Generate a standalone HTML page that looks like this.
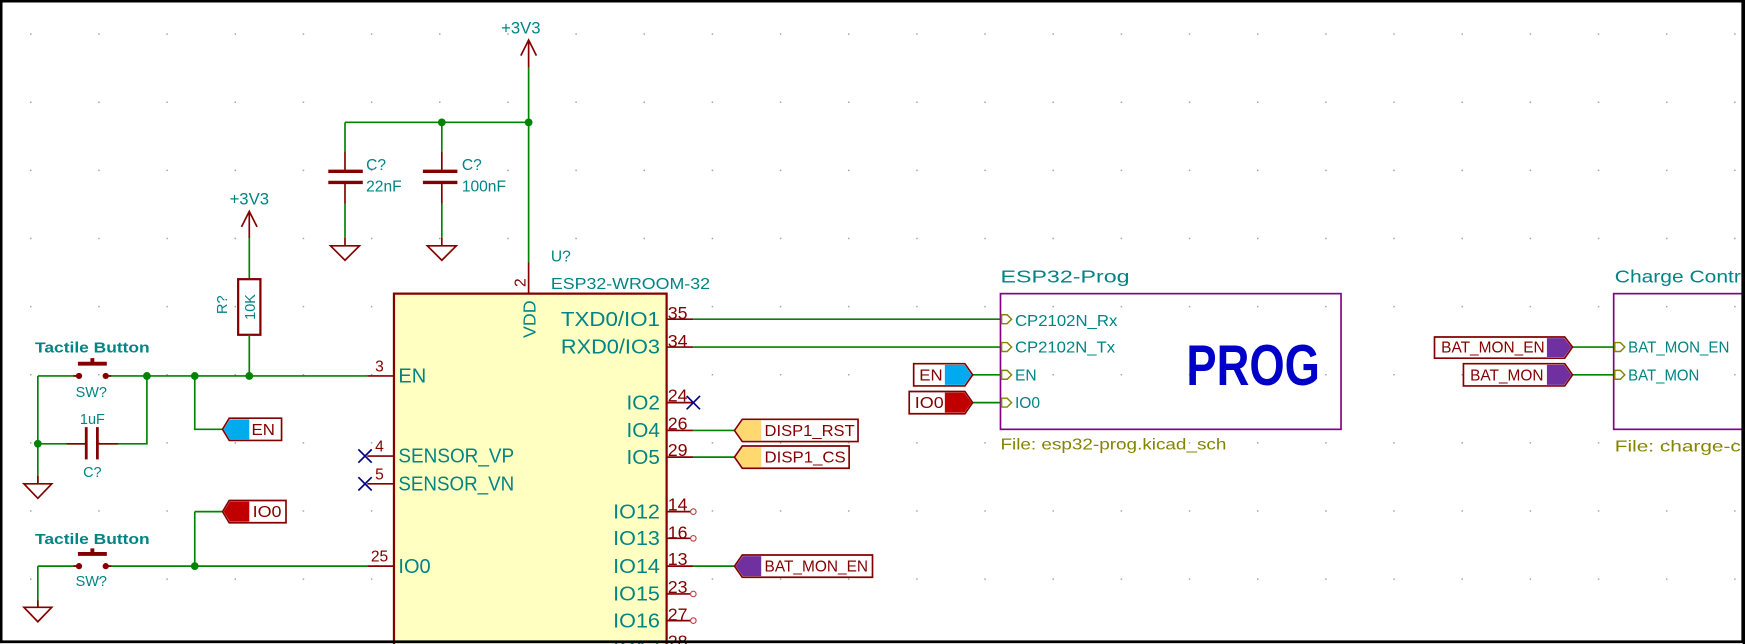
<!DOCTYPE html>
<html><head><meta charset="utf-8"><style>
html,body{margin:0;padding:0;background:#fff;}
svg{display:block;}
text{font-family:"Liberation Sans",sans-serif;}
.t{fill:#008484;}
.m{fill:#840000;}
.w{stroke:#008400;stroke-width:1.5;fill:none;}
.p{stroke:#840000;stroke-width:1.5;fill:none;}
.j{fill:#008400;}
</style></head><body>
<svg width="1745" height="644" viewBox="0 0 1568 579" preserveAspectRatio="none" xmlns="http://www.w3.org/2000/svg">
<defs><pattern id="g" x="27" y="30" width="61.25" height="61.25" patternUnits="userSpaceOnUse"><rect width="1.3" height="1.3" fill="#a0a0a0"/></pattern></defs>
<rect width="1568" height="579" fill="#fff"/>
<rect width="1568" height="579" fill="url(#g)"/>

<text class="t" x="468" y="30" font-size="15" text-anchor="middle">+3V3</text>
<path class="p" d="M475 36 V61 M468 50 L475 36 L482 50"/>
<path class="w" d="M475 61 V236 M310 110 H475 M310 110 V136 M397 110 V136"/>
<path class="p" d="M475 236 V264"/>
<text class="m" x="0" y="0" font-size="14" transform="translate(472,258) rotate(-90)">2</text>
<circle class="j" cx="475" cy="110" r="3.5"/><circle class="j" cx="397" cy="110" r="3.5"/>
<g>
<path class="p" d="M310 136 V154 M310 164 V183 M397 136 V154 M397 164 V183"/>
<path d="M295 154 H326 M295 164 H326 M380 154 H411 M380 164 H411" stroke="#840000" stroke-width="3"/>
<path class="w" d="M310 183 V214 M397 183 V214"/>
<path class="p" d="M310 214 V221 M297 221 H323 L310 234 Z M397 214 V221 M384 221 H410 L397 234 Z"/>
<text class="t" x="329" y="153" font-size="14">C?</text><text class="t" x="329" y="172" font-size="14">22nF</text>
<text class="t" x="415" y="153" font-size="14">C?</text><text class="t" x="415" y="172" font-size="14">100nF</text>
</g>
<text class="t" x="224" y="184" font-size="15" text-anchor="middle">+3V3</text>
<path class="p" d="M224 190 V214 M217 204 L224 190 L231 204"/>
<path class="w" d="M224 214 V251"/>
<rect x="214" y="251" width="20" height="50" fill="none" stroke="#840000" stroke-width="2"/>
<text class="t" font-size="13" text-anchor="middle" transform="translate(229,276) rotate(-90)">10K</text>
<text class="t" font-size="13" text-anchor="middle" transform="translate(204,274) rotate(-90)">R?</text>
<path class="w" d="M224 301 V338"/>
<path class="w" d="M34 338 H71 M95 338 H330 M132 338 V399 H88 M77 399 H34 M34 338 V435 M175 338 V386 H200"/>
<path class="p" d="M330 338 H354"/>
<text class="m" x="341" y="334" font-size="14" text-anchor="middle">3</text>
<circle class="j" cx="132" cy="338" r="3.5"/><circle class="j" cx="175" cy="338" r="3.5"/><circle class="j" cx="224" cy="338" r="3.5"/><circle class="j" cx="34" cy="399" r="3.5"/>
<text class="t" x="83" y="317" font-size="13" text-anchor="middle" font-weight="bold" textLength="103" lengthAdjust="spacingAndGlyphs">Tactile Button</text>
<path d="M70 327 H96 M83 327 V322" stroke="#840000" stroke-width="3.5"/>
<circle cx="71" cy="338" r="2.8" fill="#840000"/><circle cx="95" cy="338" r="2.8" fill="#840000"/>
<path class="p" d="M66 338 H71 M95 338 H100"/>
<text class="t" x="82" y="357" font-size="13" text-anchor="middle">SW?</text>
<path class="p" d="M60 399 H77 M88 399 H106"/>
<path d="M77.5 384 V413 M87.5 384 V413" stroke="#840000" stroke-width="2.5"/>
<text class="t" x="83" y="381" font-size="13" text-anchor="middle">1uF</text>
<text class="t" x="83" y="429" font-size="13" text-anchor="middle">C?</text>
<path class="p" d="M34 428 V435 M21.5 435 H46.5 L34 448 Z"/>
<polygon points="200,386 206,376 253,376 253,396 206,396" fill="#fff" stroke="#840000" stroke-width="1.5"/>
<polygon points="201,386 206.5,377 224,377 224,395 206.5,395" fill="#00aaee"/>
<text class="m" x="226" y="391" font-size="14" textLength="21" lengthAdjust="spacingAndGlyphs">EN</text>
<path class="w" d="M175 460 V509 M175 460 H200 M34 509 H71 M95 509 H330 M34 509 V546"/>
<path class="p" d="M330 509 H354"/>
<text class="m" x="341" y="505" font-size="14" text-anchor="middle">25</text>
<circle class="j" cx="175" cy="509" r="3.5"/>
<polygon points="200,460 206,450 257,450 257,470 206,470" fill="#fff" stroke="#840000" stroke-width="1.5"/>
<polygon points="201,460 206.5,451 224,451 224,469 206.5,469" fill="#c00000"/>
<text class="m" x="227" y="465" font-size="14" textLength="26" lengthAdjust="spacingAndGlyphs">IO0</text>
<text class="t" x="83" y="489" font-size="13" text-anchor="middle" font-weight="bold" textLength="103" lengthAdjust="spacingAndGlyphs">Tactile Button</text>
<path d="M70 498 H96 M83 498 V493" stroke="#840000" stroke-width="3.5"/>
<circle cx="71" cy="509" r="2.8" fill="#840000"/><circle cx="95" cy="509" r="2.8" fill="#840000"/>
<path class="p" d="M66 509 H71 M95 509 H100"/>
<text class="t" x="82" y="527" font-size="13" text-anchor="middle">SW?</text>
<path class="p" d="M34 540 V546 M21.5 546 H46.5 L34 559 Z"/>

<rect x="354" y="264" width="245" height="330" fill="#ffffc2" stroke="#840000" stroke-width="2"/>
<text class="t" x="495" y="235" font-size="14">U?</text>
<text class="t" x="495" y="260" font-size="14" textLength="143" lengthAdjust="spacingAndGlyphs">ESP32-WROOM-32</text>
<text class="t" font-size="16" text-anchor="middle" transform="translate(481,287) rotate(-90)">VDD</text>
<g class="t" font-size="18">
<text x="358" y="344">EN</text>
<text x="358" y="416" textLength="104" lengthAdjust="spacingAndGlyphs">SENSOR_VP</text>
<text x="358" y="441" textLength="104" lengthAdjust="spacingAndGlyphs">SENSOR_VN</text>
<text x="358" y="515">IO0</text>
</g>
<g class="t" font-size="18" text-anchor="end">
<text x="593" y="293" textLength="89" lengthAdjust="spacingAndGlyphs">TXD0/IO1</text>
<text x="593" y="318" textLength="89" lengthAdjust="spacingAndGlyphs">RXD0/IO3</text>
<text x="593" y="368" textLength="30" lengthAdjust="spacingAndGlyphs">IO2</text>
<text x="593" y="393" textLength="30" lengthAdjust="spacingAndGlyphs">IO4</text>
<text x="593" y="417" textLength="30" lengthAdjust="spacingAndGlyphs">IO5</text>
<text x="593" y="466" textLength="42" lengthAdjust="spacingAndGlyphs">IO12</text>
<text x="593" y="490" textLength="42" lengthAdjust="spacingAndGlyphs">IO13</text>
<text x="593" y="515" textLength="42" lengthAdjust="spacingAndGlyphs">IO14</text>
<text x="593" y="540" textLength="42" lengthAdjust="spacingAndGlyphs">IO15</text>
<text x="593" y="564" textLength="42" lengthAdjust="spacingAndGlyphs">IO16</text>
<text x="593" y="589" textLength="42" lengthAdjust="spacingAndGlyphs">IO17</text>
</g>
<path class="p" d="M330 410 H354 M330 435 H354"/>
<text class="m" x="341" y="406" font-size="14" text-anchor="middle">4</text>
<text class="m" x="341" y="431" font-size="14" text-anchor="middle">5</text>
<path d="M322 404 L334 416 M334 404 L322 416 M322 429 L334 441 M334 429 L322 441" stroke="#000084" stroke-width="1.5"/>
<path class="p" d="M599 287 H623 M599 312 H623 M599 362 H623 M599 387 H623 M599 411 H623 M599 460 H620 M599 484 H620 M599 509 H623 M599 534 H620 M599 558 H620 M599 583 H623"/>
<g class="m" font-size="16">
<text x="600" y="287">35</text><text x="600" y="312">34</text><text x="600" y="361">24</text><text x="600" y="386">26</text><text x="600" y="410">29</text><text x="600" y="459">14</text><text x="600" y="484">16</text><text x="600" y="508">13</text><text x="600" y="533">23</text><text x="600" y="558">27</text><text x="600" y="582">28</text>
</g>
<g fill="none" stroke="#c04040" stroke-width="1"><circle cx="623" cy="460" r="2.5"/><circle cx="623" cy="484" r="2.5"/><circle cx="623" cy="534" r="2.5"/><circle cx="623" cy="558" r="2.5"/></g>
<path d="M617 356 L629 368 M629 356 L617 368" stroke="#000084" stroke-width="1.5"/>
<path class="w" d="M623 287 H899 M623 312 H899 M623 387 H660 M623 411 H660 M623 509 H660"/>
<polygon points="660,387 667,377 771,377 771,397 667,397" fill="#fff" stroke="#840000" stroke-width="1.5"/>
<polygon points="661,387 667.5,378 684,378 684,396 667.5,396" fill="#ffd870"/>
<text class="m" x="687" y="392" font-size="14" textLength="81" lengthAdjust="spacingAndGlyphs">DISP1_RST</text>
<polygon points="660,411 667,401 763,401 763,421 667,421" fill="#fff" stroke="#840000" stroke-width="1.5"/>
<polygon points="661,411 667.5,402 684,402 684,420 667.5,420" fill="#ffd870"/>
<text class="m" x="687" y="416" font-size="14" textLength="73" lengthAdjust="spacingAndGlyphs">DISP1_CS</text>
<polygon points="660,509 667,499 784,499 784,519 667,519" fill="#fff" stroke="#840000" stroke-width="1.5"/>
<polygon points="661,509 667.5,500 684,500 684,518 667.5,518" fill="#7030a0"/>
<text class="m" x="687" y="514" font-size="14" textLength="93" lengthAdjust="spacingAndGlyphs">BAT_MON_EN</text>

<text class="t" x="899" y="254" font-size="16" textLength="116" lengthAdjust="spacingAndGlyphs">ESP32-Prog</text>
<rect x="899" y="264" width="306" height="122" fill="none" stroke="#840084" stroke-width="1.5"/>
<g fill="none" stroke="#848400" stroke-width="1.3">
<path d="M900 283 L905 283 L909 287 L905 291 L900 291 Z"/>
<path d="M900 308 L905 308 L909 312 L905 316 L900 316 Z"/>
<path d="M900 333 L905 333 L909 337 L905 341 L900 341 Z"/>
<path d="M900 358 L905 358 L909 362 L905 366 L900 366 Z"/>
</g>
<g class="t" font-size="14">
<text x="912" y="293" textLength="92" lengthAdjust="spacingAndGlyphs">CP2102N_Rx</text>
<text x="912" y="317" textLength="90" lengthAdjust="spacingAndGlyphs">CP2102N_Tx</text>
<text x="912" y="342">EN</text>
<text x="912" y="367">IO0</text>
</g>
<text x="1066" y="346" font-size="52" font-weight="bold" fill="#0000c8" textLength="120" lengthAdjust="spacingAndGlyphs">PROG</text>
<text x="899" y="404" font-size="14" fill="#848400" textLength="203" lengthAdjust="spacingAndGlyphs">File: esp32-prog.kicad_sch</text>
<path class="w" d="M874 337 H899 M874 362 H899 M1413 312 H1450 M1413 337 H1450"/>
<polygon points="821,327 867,327 874,337 867,347 821,347" fill="#fff" stroke="#840000" stroke-width="1.5"/>
<polygon points="849,328 866.5,328 873,337 866.5,346 849,346" fill="#00aaee"/>
<text class="m" x="826" y="342" font-size="14" textLength="21" lengthAdjust="spacingAndGlyphs">EN</text>
<polygon points="817,352 867,352 874,362 867,372 817,372" fill="#fff" stroke="#840000" stroke-width="1.5"/>
<polygon points="849,353 866.5,353 873,362 866.5,371 849,371" fill="#c00000"/>
<text class="m" x="822" y="367" font-size="14" textLength="26" lengthAdjust="spacingAndGlyphs">IO0</text>

<text class="t" x="1451" y="254" font-size="16" textLength="128" lengthAdjust="spacingAndGlyphs">Charge Control</text>
<rect x="1450" y="264" width="130" height="122" fill="none" stroke="#840084" stroke-width="1.5"/>
<g fill="none" stroke="#848400" stroke-width="1.3">
<path d="M1451 308 L1456 308 L1460 312 L1456 316 L1451 316 Z"/>
<path d="M1451 333 L1456 333 L1460 337 L1456 341 L1451 341 Z"/>
</g>
<text class="t" x="1463" y="317" font-size="14" textLength="91" lengthAdjust="spacingAndGlyphs">BAT_MON_EN</text>
<text class="t" x="1463" y="342" font-size="14" textLength="64" lengthAdjust="spacingAndGlyphs">BAT_MON</text>
<text x="1451" y="406" font-size="14" fill="#848400" textLength="160" lengthAdjust="spacingAndGlyphs">File: charge-control</text>
<polygon points="1289,303 1406,303 1413,312 1406,322 1289,322" fill="#fff" stroke="#840000" stroke-width="1.5"/>
<polygon points="1390,304 1405.5,304 1412,312 1405.5,321 1390,321" fill="#7030a0"/>
<text class="m" x="1295" y="317" font-size="14" textLength="93" lengthAdjust="spacingAndGlyphs">BAT_MON_EN</text>
<polygon points="1315,327 1406,327 1413,337 1406,347 1315,347" fill="#fff" stroke="#840000" stroke-width="1.5"/>
<polygon points="1390,328 1405.5,328 1412,337 1405.5,346 1390,346" fill="#7030a0"/>
<text class="m" x="1321" y="342" font-size="14" textLength="66" lengthAdjust="spacingAndGlyphs">BAT_MON</text>

<rect x="1" y="1" width="1565" height="576" fill="none" stroke="#000" stroke-width="2.5"/>
<rect x="1566" y="0" width="2" height="579" fill="#000"/>
</svg>
</body></html>
